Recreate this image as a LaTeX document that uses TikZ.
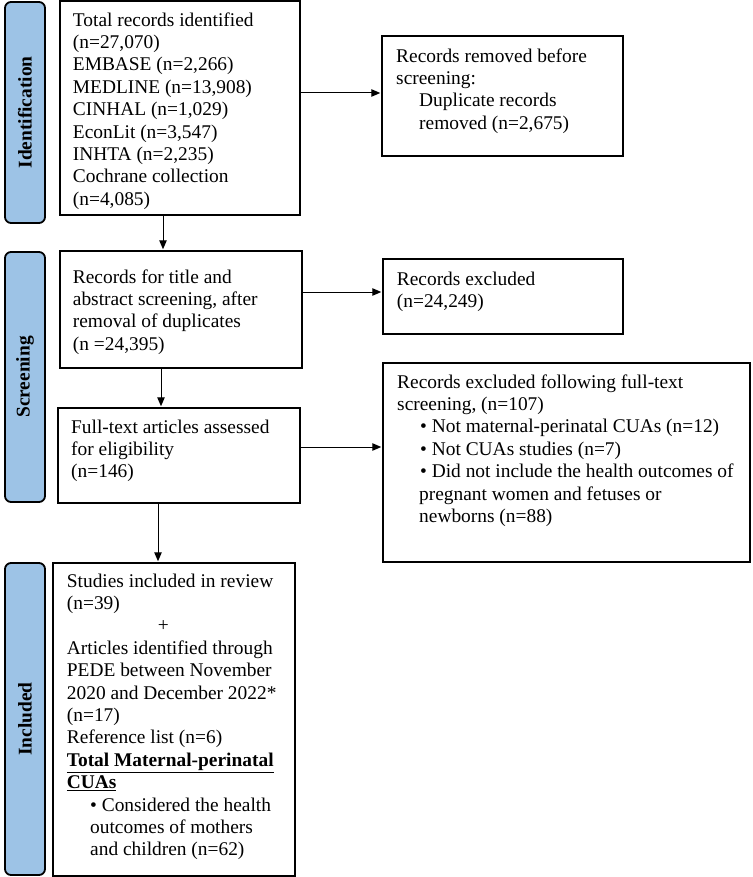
\documentclass[tikz,border=0pt]{standalone}
\usepackage{fontspec}
\setmainfont{Liberation Serif}
\usetikzlibrary{arrows.meta}
\definecolor{phasefill}{RGB}{157,195,230}
\tikzset{
  boxnode/.style={draw=black, line width=1.5pt, fill=white, inner sep=0pt},
  phase/.style={draw=black, line width=1.8pt, fill=phasefill, rounded corners=6pt, inner sep=0pt,
    font=\fontsize{19.4}{22.4}\selectfont\bfseries},
  txt/.style={anchor=north west, inner sep=0pt, align=left, font=\fontsize{19.4}{22.4}\selectfont},
  arr/.style={line width=1pt, -{Triangle[length=9pt,width=7.5pt]}, shorten >=1pt}
}
\begin{document}
\begin{tikzpicture}[x=1pt,y=-1pt]
\useasboundingbox (0,0) rectangle (752,877);
% phase labels
\node[phase, minimum width=221pt, minimum height=40pt, rotate=90] (lab1) at (25,112.5) {Identification};
\node[phase, minimum width=250pt, minimum height=40pt, rotate=90] (lab2) at (25,377) {Screening};
\node[phase, minimum width=312pt, minimum height=40pt, rotate=90] (lab3) at (25,719) {Included};
% boxes
\node[boxnode, minimum width=240pt, minimum height=214pt] (box1) at (180,108) {};
\node[boxnode, minimum width=241pt, minimum height=120pt] (box2) at (502.5,96) {};
\node[boxnode, minimum width=242pt, minimum height=117pt] (box3) at (181,309.5) {};
\node[boxnode, minimum width=240pt, minimum height=75pt] (box4) at (503,296.5) {};
\node[boxnode, minimum width=242pt, minimum height=95pt] (box5) at (179,455.5) {};
\node[boxnode, minimum width=367pt, minimum height=199pt] (box6) at (566.5,462.5) {};
\node[boxnode, minimum width=242pt, minimum height=313pt] (box7) at (174,719.5) {};
% texts
\node[txt] (t1) at (72.7,10.3) {\strut Total records identified\\(n=27,070)\\EMBASE (n=2,266)\\MEDLINE (n=13,908)\\CINHAL (n=1,029)\\EconLit (n=3,547)\\INHTA (n=2,235)\\Cochrane collection\\(n=4,085)};
\node[txt] (t2) at (396,46.3) {\strut Records removed before\\screening:\\\hspace*{23pt}Duplicate records\\\hspace*{23pt}removed (n=2,675)};
\node[txt] (t3) at (72.7,267.3) {\strut Records for title and\\abstract screening, after\\removal of duplicates\\(n =24,395)};
\node[txt] (t4) at (396.7,269.3) {\strut Records excluded\\(n=24,249)};
\node[txt] (t5) at (71,417.3) {\strut Full-text articles assessed\\for eligibility\\(n=146)};
\node[txt] (t6) at (397,372.3) {\strut Records excluded following full-text\\screening, (n=107)\\\hspace*{23pt}• Not maternal-perinatal CUAs (n=12)\\\hspace*{23pt}• Not CUAs studies (n=7)\\\hspace*{23pt}• Did not include the health outcomes of\\\hspace*{22pt}pregnant women and fetuses or\\\hspace*{22pt}newborns (n=88)};
\node[txt] (t7) at (66.7,571.3) {\strut Studies included in review\\(n=39)\\\hspace*{91pt}+\\Articles identified through\\PEDE between November\\2020 and December 2022*\\(n=17)\\Reference list (n=6)\\\textbf{\underline{Total Maternal-perinatal}}\\\textbf{\underline{CUAs}}\\\hspace*{23.3pt}• Considered the health\\\hspace*{23.3pt}outcomes of mothers\\\hspace*{23.3pt}and children (n=62)};
% connector guides
\coordinate (h1) at (0,93);
\coordinate (h2) at (0,292);
\coordinate (h3) at (0,447);
\coordinate (v1) at (163,0);
\coordinate (v2) at (161,0);
\coordinate (v3) at (158,0);
% connectors
\draw[arr] (box1.east |- h1) -- (box2.west |- h1);
\draw[arr] (box1.south -| v1) -- (box3.north -| v1);
\draw[arr] (box3.east |- h2) -- (box4.west |- h2);
\draw[arr] (box3.south -| v2) -- (box5.north -| v2);
\draw[arr] (box5.east |- h3) -- (box6.west |- h3);
\draw[arr] (box5.south -| v3) -- (box7.north -| v3);
\end{tikzpicture}
\end{document}
